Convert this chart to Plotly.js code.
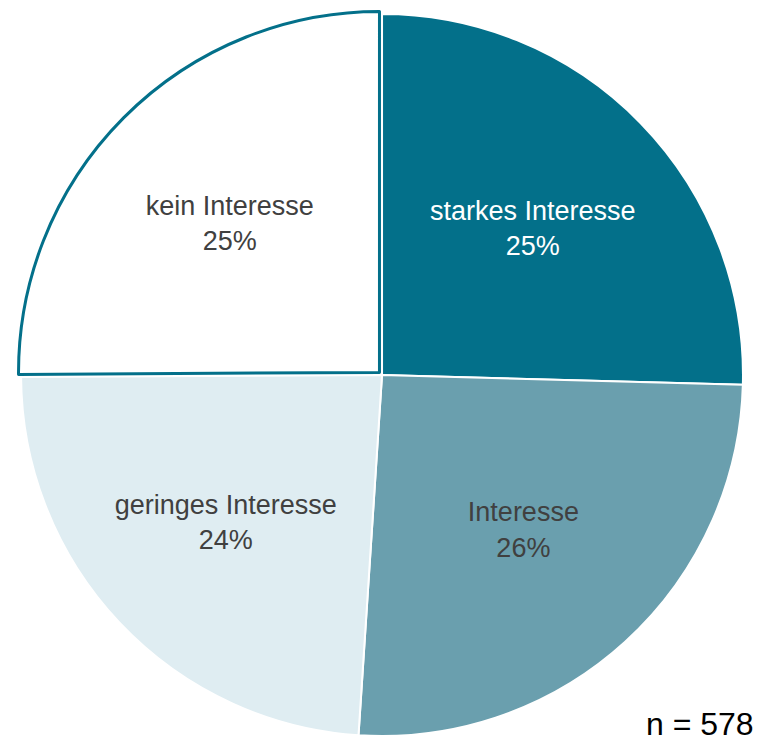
<!DOCTYPE html>
<html>
<head>
<meta charset="utf-8">
<script src="https://cdn.plot.ly/plotly-3.0.1.min.js"></script>
<style>html,body{margin:0;padding:0;background:#fff;}#chart{width:758px;height:744px;}</style>
</head>
<body>
<div id="chart"></div>
<script>
const categories = ["starkes Interesse", "Interesse", "geringes Interesse", "kein Interesse"];
const counts = [147, 148, 138, 145];
const sampleSize = "n = 578";

const fillColors = ["#03708a", "#6a9fae", "#dfedf2", "#ffffff"];
const lineColors = ["#ffffff", "#ffffff", "#ffffff", "#03708a"];
const lineWidths = [2, 2, 2, 3];
const textColors = ["#ffffff", "#404040", "#404040", "#404040"];
const pulls = [0, 0, 0, 0.01];

const trace = {
  type: "pie",
  labels: categories,
  values: counts,
  sort: false,
  direction: "clockwise",
  rotation: 0,
  pull: pulls,
  marker: { colors: fillColors, line: { color: lineColors, width: lineWidths } },
  texttemplate: "%{label}<br>%{percent:.0%}",
  textposition: "inside",
  insidetextorientation: "horizontal",
  textfont: { family: "Liberation Sans, Arial, sans-serif", size: 27, color: textColors },
  hoverinfo: "none",
  showlegend: false,
  domain: { x: [0.023, 0.985], y: [0.006, 0.986] }
};

const layout = {
  width: 758,
  height: 744,
  margin: { l: 0, r: 0, t: 0, b: 0 },
  paper_bgcolor: "#ffffff",
  showlegend: false,
  annotations: [{
    text: sampleSize,
    xref: "paper", yref: "paper",
    x: 0.997, y: 0.0,
    xanchor: "right", yanchor: "bottom",
    showarrow: false,
    font: { family: "Liberation Sans, Arial, sans-serif", size: 32, color: "#000000" }
  }]
};

Plotly.newPlot("chart", [trace], layout, { staticPlot: true });
</script>
</body>
</html>
